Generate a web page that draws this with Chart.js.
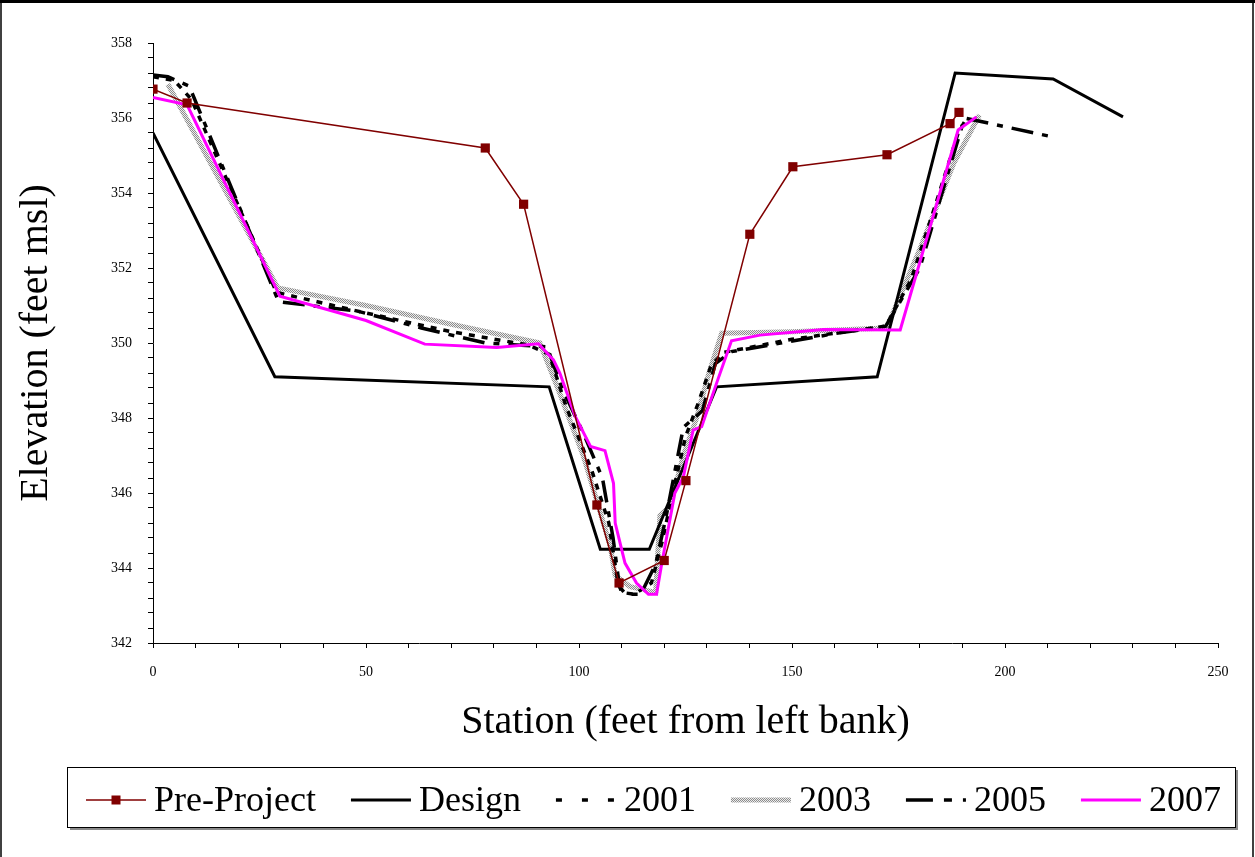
<!DOCTYPE html>
<html>
<head>
<meta charset="utf-8">
<script src="https://cdn.jsdelivr.net/npm/chart.js@4.4.1/dist/chart.umd.min.js"></script>
<style>
  html, body { margin: 0; padding: 0; background: #ffffff; }
  #wrap { position: relative; width: 1255px; height: 857px; }
  canvas { display: block; }
</style>
</head>
<body>
<div id="wrap"><canvas id="xs" width="1255" height="857"></canvas></div>
<script>
// Cross-section survey: station (ft from left bank) vs. bed elevation (ft msl)
const preProjectStation = [0, 8, 78, 87, 104.2, 109.4, 120, 125.1, 140.1, 150.2, 172.3, 187.1, 189.2];
const preProjectElev    = [356.77, 356.4, 355.2, 353.7, 345.68, 343.6, 344.2, 346.33, 352.9, 354.7, 355.02, 355.85, 356.15];

const designStation = [0, 28.6, 93, 105, 116.5, 132.3, 170, 188.3, 211.3, 227.7];
const designElev    = [355.6, 349.1, 348.83, 344.5, 344.5, 348.83, 349.1, 357.2, 357.04, 356.03];

const s2001Station = [0, 5, 9, 29, 50, 70, 88, 93, 97, 103, 107, 109, 110, 113, 117, 119.5, 122, 125, 128, 131, 134, 150, 172, 178, 184, 189, 191];
const s2001Elev    = [357.1, 357.0, 356.5, 351.35, 350.8, 350.3, 349.95, 349.7, 348.3, 346.6, 345.2, 343.7, 343.35, 343.3, 343.6, 344.7, 346.0, 347.5, 348.4, 349.4, 349.75, 350.1, 350.45, 351.7, 353.8, 355.6, 356.0];

const s2003Station = [3.5, 29.3, 50, 70, 90.8, 95, 101, 107.3, 108.5, 112, 118, 119, 121.4, 124.5, 127.6, 130.5, 133.5, 150, 172.2, 180, 188, 194];
const s2003Elev    = [356.9, 351.47, 351.0, 350.5, 350.0, 348.8, 347.0, 344.6, 343.8, 343.5, 343.35, 345.4, 345.65, 347.0, 348.0, 349.2, 350.26, 350.3, 350.4, 352.5, 354.8, 356.08];

const s2005Station = [0, 3.5, 8.5, 29.5, 48, 63, 78, 92.5, 96, 101, 105.5, 108, 109.5, 111, 114.5, 118, 120.5, 124.5, 129, 132, 135.8, 145, 160, 172, 180, 186, 190.5, 211];
const s2005Elev    = [357.15, 357.1, 356.85, 351.1, 350.85, 350.4, 350.0, 349.9, 348.8, 347.6, 346.4, 344.8, 343.5, 343.3, 343.3, 344.1, 345.4, 347.75, 348.2, 349.45, 349.77, 349.95, 350.25, 350.45, 352.0, 354.3, 356.0, 355.5];

const s2007Station = [0, 8, 29.8, 50, 63.8, 80.7, 90.5, 94, 95.5, 99.1, 102.7, 106.1, 108.1, 108.5, 110.8, 113.5, 116.3, 118.2, 119.4, 122.5, 124.5, 126.8, 128.8, 132.3, 135.8, 142.5, 157.4, 175.4, 189, 193.3];
const s2007Elev    = [356.55, 356.35, 351.25, 350.6, 349.97, 349.88, 349.98, 349.55, 349.2, 348.05, 347.24, 347.13, 346.26, 345.2, 344.13, 343.6, 343.3, 343.3, 344.1, 346.0, 346.43, 347.68, 347.77, 348.93, 350.06, 350.21, 350.36, 350.35, 355.68, 356.03];

const seriesNames = ['Pre-Project', 'Design', '2001', '2003', '2005', '2007'];

// Axis ranges and tick steps
const xMin = 0, xMax = 250, xMinorStep = 10, xLabelStep = 50;
const yMin = 342, yMax = 358, yMinorStep = 0.4, yLabelStep = 2;

const SERIF = '"Liberation Serif", "Times New Roman", serif';

function toPoints(xs, ys) { return xs.map((x, i) => ({ x: x, y: ys[i] })); }

// Fine gray stipple used for the 2003 survey line
function makeStipple() {
  const p = document.createElement('canvas');
  p.width = 2; p.height = 2;
  const g = p.getContext('2d');
  g.fillStyle = '#ececec'; g.fillRect(0, 0, 2, 2);
  g.fillStyle = '#8c8c8c'; g.fillRect(0, 0, 1, 1); g.fillRect(1, 1, 1, 1);
  return g.createPattern(p, 'repeat');
}
const stipple = makeStipple();

const datasets = [
  { label: seriesNames[0], data: toPoints(preProjectStation, preProjectElev),
    borderColor: '#800000', backgroundColor: '#800000', borderWidth: 1.5,
    pointStyle: 'rect', pointRadius: 6.5, pointBorderWidth: 0, order: 0 },
  { label: seriesNames[1], data: toPoints(designStation, designElev),
    borderColor: '#000000', borderWidth: 3, pointRadius: 0, order: 4 },
  { label: seriesNames[2], data: toPoints(s2001Station, s2001Elev),
    borderColor: '#000000', borderWidth: 3.5, borderDash: [6, 7], pointRadius: 0, order: 3,
    legendDash: [6, 20] },
  { label: seriesNames[3], data: toPoints(s2003Station, s2003Elev),
    borderColor: stipple, borderWidth: 5, pointRadius: 0, order: 5 },
  { label: seriesNames[4], data: toPoints(s2005Station, s2005Elev),
    borderColor: '#000000', borderWidth: 3.5, borderDash: [22, 9, 6, 9], pointRadius: 0, order: 2,
    legendDash: [27, 11, 8, 11] },
  { label: seriesNames[5], data: toPoints(s2007Station, s2007Elev),
    borderColor: '#ff00ff', borderWidth: 3, pointRadius: 0, order: 1 }
];

// White page plus the chart frame
const framePlugin = {
  id: 'frame',
  beforeDraw(chart) {
    const ctx = chart.ctx;
    ctx.save();
    ctx.fillStyle = '#ffffff';
    ctx.fillRect(0, 0, chart.width, chart.height);
    ctx.restore();
  },
  afterDraw(chart) {
    const ctx = chart.ctx;
    ctx.save();
    ctx.strokeStyle = '#000000';
    ctx.lineWidth = 3;
    ctx.beginPath(); ctx.moveTo(0, 1.5); ctx.lineTo(chart.width, 1.5); ctx.stroke();
    ctx.lineWidth = 1.5;
    ctx.beginPath(); ctx.moveTo(1, 0); ctx.lineTo(1, chart.height); ctx.stroke();
    ctx.beginPath(); ctx.moveTo(chart.width - 2, 0); ctx.lineTo(chart.width - 2, chart.height); ctx.stroke();
    ctx.restore();
  }
};

// Boxed legend under the axis title, drawn from the dataset styles
const legendPlugin = {
  id: 'boxLegend',
  afterDraw(chart) {
    const ctx = chart.ctx;
    const box = { x: 67, y: 767, w: 1168, h: 60 };
    ctx.save();
    ctx.fillStyle = '#8a8a8a';
    ctx.fillRect(box.x + 3, box.y + box.h, box.w, 3);
    ctx.fillRect(box.x + box.w, box.y + 3, 3, box.h);
    ctx.fillStyle = '#ffffff';
    ctx.fillRect(box.x, box.y, box.w, box.h);
    ctx.strokeStyle = '#000000';
    ctx.lineWidth = 1;
    ctx.strokeRect(box.x + 0.5, box.y + 0.5, box.w, box.h);

    ctx.font = '36px ' + SERIF;
    ctx.textBaseline = 'middle';
    ctx.textAlign = 'left';
    const cy = box.y + 33;
    const sampleLen = 60, textGap = 8, itemGap = 35;
    let x = 86;
    chart.data.datasets.forEach((ds) => {
      ctx.save();
      ctx.strokeStyle = ds.borderColor;
      ctx.lineWidth = ds.borderWidth;
      ctx.setLineDash(ds.legendDash || ds.borderDash || []);
      ctx.beginPath();
      ctx.moveTo(x, cy);
      ctx.lineTo(x + sampleLen, cy);
      ctx.stroke();
      ctx.restore();
      if (ds.pointStyle === 'rect') {
        ctx.fillStyle = ds.backgroundColor;
        ctx.fillRect(x + sampleLen / 2 - 4.5, cy - 4.5, 9, 9);
      }
      const tx = x + sampleLen + textGap;
      ctx.fillStyle = '#000000';
      ctx.fillText(ds.label, tx, cy + 2);
      x = tx + ctx.measureText(ds.label).width + itemGap;
    });
    ctx.restore();
  }
};

const isMultiple = (v, step) => Math.abs(v / step - Math.round(v / step)) < 1e-6;

new Chart(document.getElementById('xs'), {
  type: 'line',
  data: { datasets: datasets },
  plugins: [framePlugin, legendPlugin],
  options: {
    responsive: false,
    animation: false,
    devicePixelRatio: 1,
    layout: { padding: { left: 0, top: 43, right: 37, bottom: 104 } },
    elements: { line: { tension: 0, fill: false } },
    plugins: { legend: { display: false }, tooltip: { enabled: false } },
    scales: {
      x: {
        type: 'linear', min: xMin, max: xMax,
        afterFit(scale) { scale.height = 110; },
        border: { display: true, color: '#000000', width: 1 },
        grid: { display: true, drawOnChartArea: false, drawTicks: true, tickLength: 5, color: '#000000' },
        ticks: {
          stepSize: xMinorStep, autoSkip: false, maxRotation: 0, padding: 16,
          color: '#000000', font: { family: SERIF, size: 14 },
          callback: (v) => isMultiple(v, xLabelStep) ? String(Math.round(v)) : ''
        },
        title: {
          display: true, text: 'Station (feet from left bank)', color: '#000000',
          font: { family: SERIF, size: 40, lineHeight: 1.2 }, padding: { top: 0, bottom: 7 }
        }
      },
      y: {
        type: 'linear', min: yMin, max: yMax,
        afterFit(scale) { scale.width = 153; },
        border: { display: true, color: '#000000', width: 1 },
        grid: { display: true, drawOnChartArea: false, drawTicks: true, tickLength: 5, color: '#000000' },
        ticks: {
          stepSize: yMinorStep, autoSkip: false, padding: 16,
          color: '#000000', font: { family: SERIF, size: 14 },
          callback: (v) => isMultiple(v - yMin, yLabelStep) ? String(Math.round(v)) : ''
        },
        title: {
          display: true, text: 'Elevation (feet msl)', color: '#000000',
          font: { family: SERIF, size: 40, lineHeight: 1.2 }, padding: { top: 12, bottom: 0 }
        }
      }
    }
  }
});
</script>
</body>
</html>
